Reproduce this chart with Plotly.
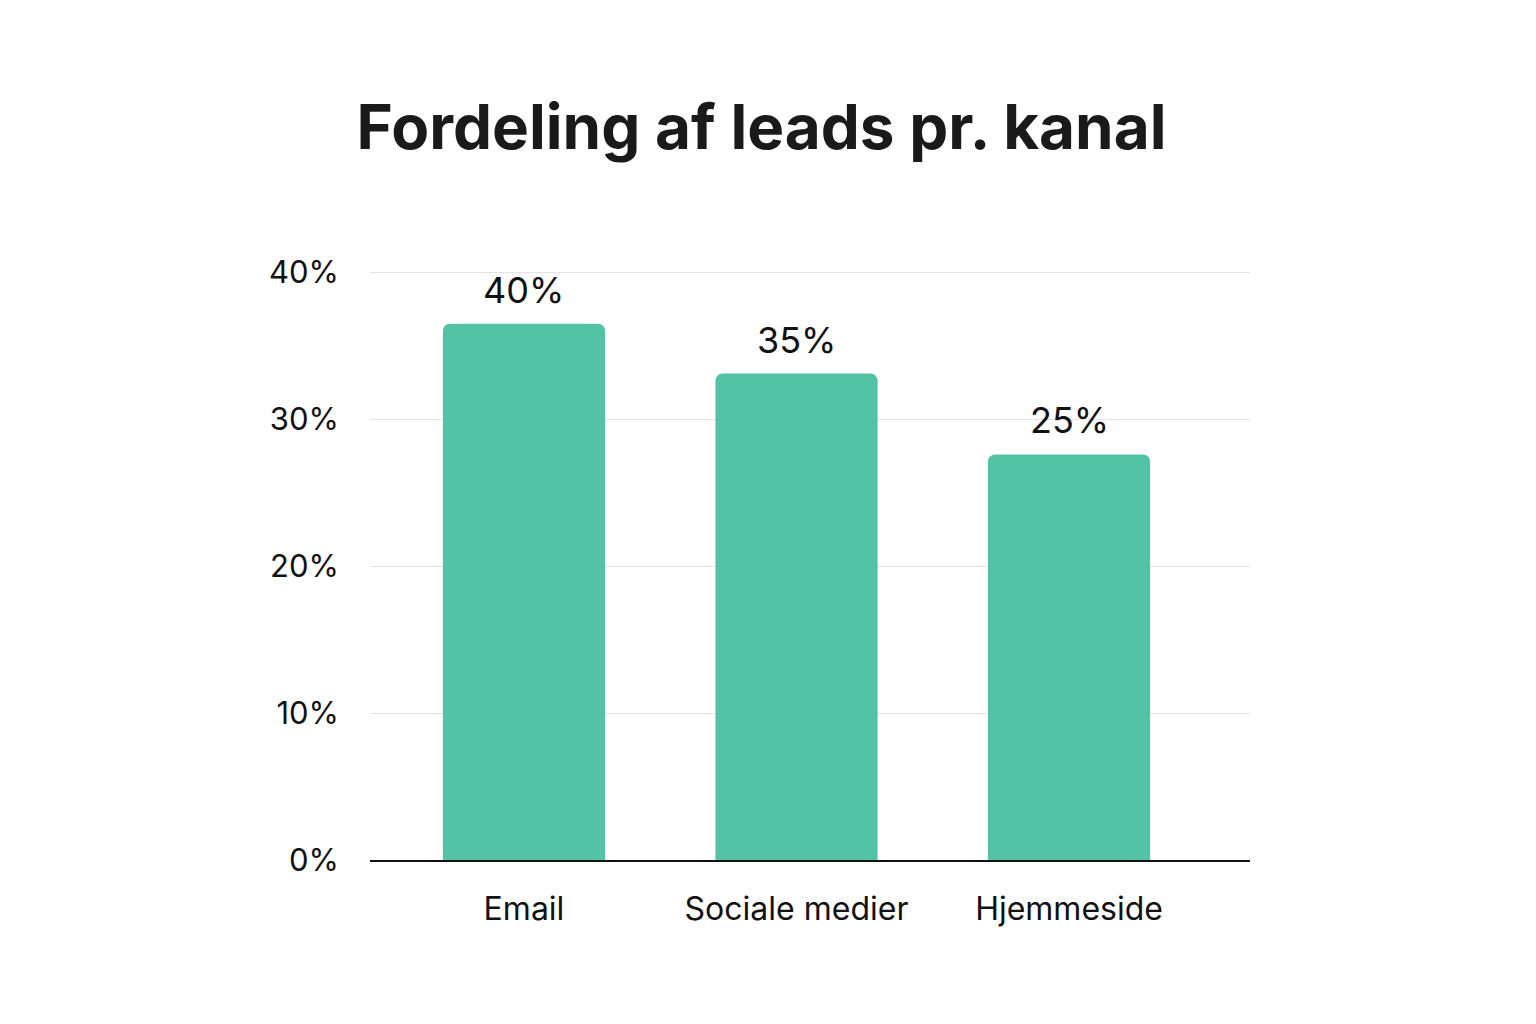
import plotly.graph_objects as go

# channels and bar heights as drawn
channels = ["Email", "Sociale medier", "Hjemmeside"]
bar_heights = [36.5, 33.1, 27.6]
bar_labels = ["40%", "35%", "25%"]

y_ticks = [0, 10, 20, 30, 40]
y_tick_labels = ["0%", "10%", "20%", "30%", "40%"]

bar_color = "#52C3A5"
font_family = "Inter, Roboto, sans-serif"

fig = go.Figure()

fig.add_trace(go.Bar(
    x=channels,
    y=bar_heights,
    width=0.595,
    marker=dict(color=bar_color, line=dict(width=0)),
    hoverinfo="skip",
))

# value labels above bars
for ch, h, lab in zip(channels, bar_heights, bar_labels):
    fig.add_annotation(
        x=ch, y=h, text=lab, showarrow=False,
        yanchor="bottom", yshift=10,
        font=dict(size=36, color="#111111", family=font_family),
    )

fig.update_layout(
    width=1536,
    height=1024,
    paper_bgcolor="white",
    plot_bgcolor="white",
    margin=dict(l=362, r=294, t=262, b=172),
    barcornerradius=7,
    showlegend=False,
    title=dict(
        text="<b>Fordeling af leads pr. kanal</b>",
        x=0.4906, xanchor="center",
        y=1 - 119 / 1024, yanchor="middle",
        font=dict(size=62, color="#1a1a1a", family=font_family),
    ),
    font=dict(family=font_family, color="#111111"),
)

fig.update_xaxes(
    type="category",
    range=[-0.565, 2.664],
    showgrid=False,
    showline=True,
    linecolor="#111111",
    linewidth=1.5,
    ticks="",
    ticklabelstandoff=20,
    tickfont=dict(size=32, color="#111111"),
)

fig.update_yaxes(
    range=[0, 40.15],
    tickvals=y_ticks,
    ticktext=y_tick_labels,
    showgrid=True,
    gridcolor="#e3e3e3",
    gridwidth=1,
    zeroline=False,
    showline=False,
    ticks="",
    ticklabelstandoff=30,
    tickfont=dict(size=31, color="#111111"),
)

fig.write_html("out.html")
